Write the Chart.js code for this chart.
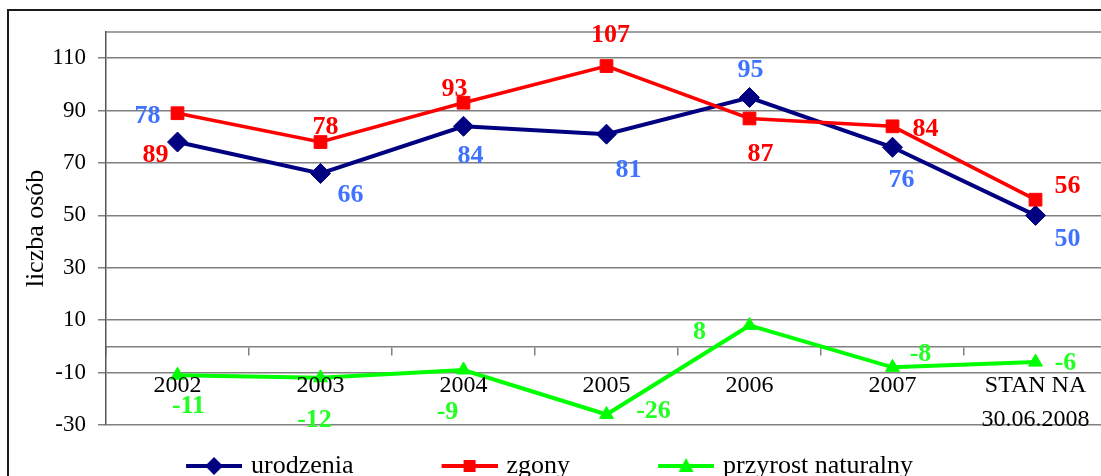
<!DOCTYPE html>
<html>
<head>
<meta charset="utf-8">
<script src="https://cdn.jsdelivr.net/npm/chart.js@4.4.1/dist/chart.umd.min.js"></script>
<style>
  html, body { margin: 0; padding: 0; background: #fff; overflow: hidden; width: 1101px; height: 476px; }
  #frame { position: absolute; left: 7px; top: 9px; width: 1200px; height: 600px; border: 2px solid #1a1a1a; box-sizing: border-box; }
  #wrap { position: absolute; left: 0; top: 0; width: 1107px; height: 489px; }
</style>
</head>
<body>
<div id="frame"></div>
<div id="wrap"><canvas id="chart"></canvas></div>
<script>
const categories = ["2002", "2003", "2004", "2005", "2006", "2007", ["STAN NA", "30.06.2008"]];
const urodzenia = [78, 66, 84, 81, 95, 76, 50];
const zgony = [89, 78, 93, 107, 87, 84, 56];
const przyrost = [-11, -12, -9, -26, 8, -8, -6];
const yTicks = [-30, -10, 10, 30, 50, 70, 90, 110];

// label placement next to each point, in px (same order as datasets)
const labelOffsets = [
    [[-30, -26], [30, 22], [7, 30], [22, 36], [1, -27], [9, 33], [32, 24]],
    [[-22, 42], [5, -15], [-9, -13], [4, -31], [11, 36], [33, 3], [32, -13]],
    [[11, 31], [-6, 42], [-16, 42], [47, -3], [-50, 7], [28, -13], [30, 1]]
];
const labelColors = ["#3f72ff", "#ff0000", "#22ff22"];

const serif = "'Liberation Serif', 'Times New Roman', serif";
const symbolWidth = 112;

// line + marker picture for the legend, blank space on the left keeps items apart
function legendSymbol(color, shape) {
    const w = symbolWidth + 8, h = 22;
    const c = document.createElement("canvas");
    c.width = w;
    c.height = h;
    const g = c.getContext("2d");
    g.strokeStyle = color;
    g.lineWidth = 4;
    g.beginPath();
    g.moveTo(w - 56, h / 2);
    g.lineTo(w, h / 2);
    g.stroke();
    g.fillStyle = color;
    const cx = w - 28, cy = h / 2;
    g.beginPath();
    if (shape === "diamond") {
        g.moveTo(cx, cy - 9); g.lineTo(cx + 9, cy); g.lineTo(cx, cy + 9); g.lineTo(cx - 9, cy);
    } else if (shape === "square") {
        g.rect(cx - 6, cy - 6, 12, 12);
    } else {
        g.moveTo(cx, cy - 8); g.lineTo(cx + 7.5, cy + 6); g.lineTo(cx - 7.5, cy + 6);
    }
    g.closePath();
    g.fill();
    return c;
}
const symbols = [
    legendSymbol("#000080", "diamond"),
    legendSymbol("#ff0000", "square"),
    legendSymbol("#00ff00", "triangle")
];

const valueLabels = {
    id: "valueLabels",
    afterDatasetsDraw(chart) {
        const ctx = chart.ctx;
        ctx.save();
        ctx.font = "bold 26px " + serif;
        ctx.textAlign = "center";
        ctx.textBaseline = "middle";
        chart.data.datasets.forEach((ds, i) => {
            const meta = chart.getDatasetMeta(i);
            ctx.fillStyle = labelColors[i];
            meta.data.forEach((pt, j) => {
                const [dx, dy] = labelOffsets[i][j];
                ctx.fillText(String(ds.data[j]), pt.x + dx, pt.y + dy);
            });
        });
        ctx.restore();
    }
};

const plotTop = {
    id: "plotTop",
    beforeDatasetsDraw(chart) {
        const { ctx, chartArea: a } = chart;
        ctx.save();
        ctx.strokeStyle = "#808080";
        ctx.lineWidth = 1.5;
        ctx.beginPath();
        ctx.moveTo(a.left, a.top);
        ctx.lineTo(a.right, a.top);
        ctx.stroke();
        ctx.restore();
    }
};

new Chart(document.getElementById("chart"), {
    type: "line",
    data: {
        labels: categories,
        datasets: [
            {
                label: "urodzenia",
                data: urodzenia,
                borderColor: "#000080",
                backgroundColor: "#000080",
                borderWidth: 4,
                pointStyle: "rectRot",
                pointRadius: 10,
                pointBorderWidth: 1,
                tension: 0,
                order: 2
            },
            {
                label: "zgony",
                data: zgony,
                borderColor: "#ff0000",
                backgroundColor: "#ff0000",
                borderWidth: 3.5,
                pointStyle: "rect",
                pointRadius: 9,
                pointBorderWidth: 1,
                tension: 0,
                order: 1
            },
            {
                label: "przyrost naturalny",
                data: przyrost,
                borderColor: "#00ff00",
                backgroundColor: "#00ff00",
                borderWidth: 4,
                pointStyle: "triangle",
                pointRadius: 8,
                pointBorderWidth: 1,
                tension: 0,
                order: 0
            }
        ]
    },
    options: {
        responsive: true,
        maintainAspectRatio: false,
        animation: false,
        layout: { autoPadding: false, padding: { left: -68, right: 0, top: 32, bottom: 0 } },
        plugins: {
            tooltip: { enabled: false },
            legend: {
                position: "bottom",
                labels: {
                    usePointStyle: true,
                    pointStyleWidth: symbolWidth,
                    padding: 28,
                    color: "#000",
                    font: { family: serif, size: 26 },
                    generateLabels: chart => chart.data.datasets.map((ds, i) => ({
                        text: ds.label,
                        pointStyle: symbols[i],
                        fillStyle: ds.borderColor,
                        strokeStyle: ds.borderColor,
                        lineWidth: 0,
                        hidden: false,
                        datasetIndex: i,
                        fontColor: "#000"
                    }))
                }
            }
        },
        scales: {
            x: {
                position: { y: 0 },
                offset: true,
                afterFit: s => { s.paddingLeft = 0; s.paddingRight = 0; },
                grid: { offset: true, drawOnChartArea: false, tickLength: 8, color: "#808080", lineWidth: 1.5 },
                border: { display: true, color: "#808080", width: 1.5 },
                ticks: {
                    z: 1,
                    color: "#000",
                    font: { family: serif, size: 24, lineHeight: 1.4 },
                    padding: 15,
                    maxRotation: 0,
                    autoSkip: false
                }
            },
            y: {
                min: -30,
                max: 120,
                afterBuildTicks: s => { s.ticks = yTicks.map(v => ({ value: v })); },
                afterFit: s => { s.width = 174; },
                grid: { color: "#808080", lineWidth: 1.5, tickLength: 8 },
                border: { color: "#555", width: 1.5 },
                ticks: { color: "#000", font: { family: serif, size: 23 }, padding: 12 },
                title: {
                    display: true,
                    text: "liczba osób",
                    color: "#000",
                    font: { family: serif, size: 26 },
                    padding: { top: 88.4, bottom: 0 }
                }
            }
        }
    },
    plugins: [plotTop, valueLabels]
});
</script>
</body>
</html>
